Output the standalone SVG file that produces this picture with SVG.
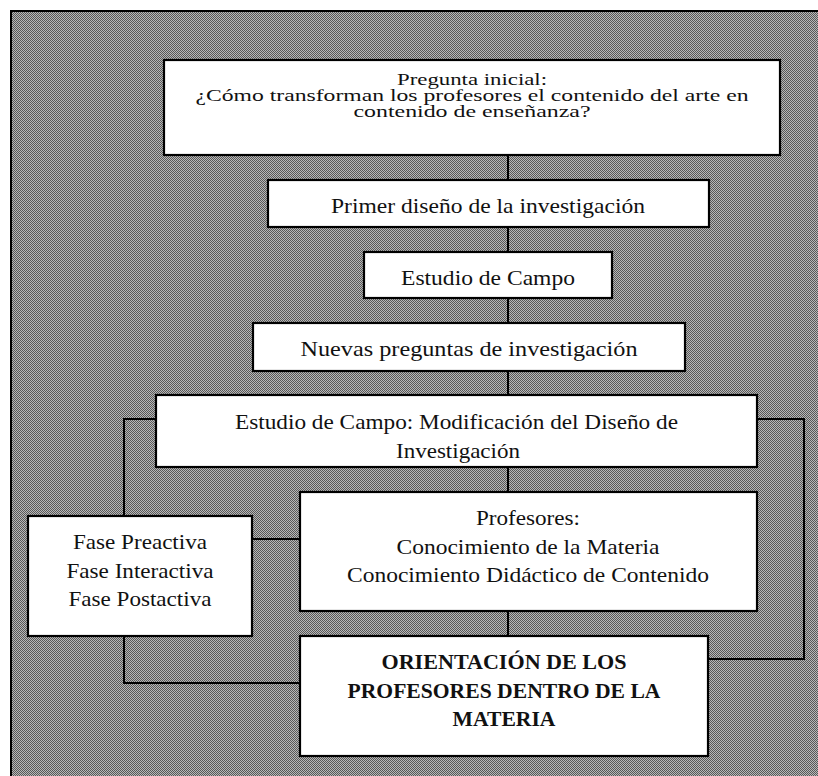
<svg xmlns="http://www.w3.org/2000/svg" width="818" height="776" viewBox="0 0 818 776">
  <defs>
    <!-- dithered gray fill for the frame background -->
    <pattern id="dither" width="2" height="2" patternUnits="userSpaceOnUse">
      <rect x="0" y="0" width="2" height="2" fill="#b8b8b8"/>
      <rect x="0" y="0" width="1" height="1" fill="#585858"/>
      <rect x="1" y="1" width="1" height="1" fill="#585858"/>
    </pattern>
    <clipPath id="clip-modif">
      <rect x="156" y="395" width="601" height="72"/>
    </clipPath>
  </defs>
  <style>
    .box { fill: #ffffff; stroke: #000000; stroke-width: 2.2; }
    .edge { fill: none; stroke: #000000; stroke-width: 2; }
    text { font-family: "Liberation Serif", "Times New Roman", serif; fill: #111111; text-anchor: middle; }
    .t16 { font-size: 16px; }
    .t22 { font-size: 22px; }
    .bold { font-size: 22px; font-weight: bold; }
  </style>

  <rect x="0" y="0" width="818" height="776" fill="#ffffff"/>
  <!-- outer frame -->
  <rect x="11" y="11" width="830" height="800" fill="url(#dither)" stroke="#000000" stroke-width="2"/>

  <g id="connectors">
    <line class="edge" x1="508" y1="155" x2="508" y2="180"/>
    <line class="edge" x1="508" y1="227" x2="508" y2="252"/>
    <line class="edge" x1="508" y1="298" x2="508" y2="323"/>
    <line class="edge" x1="508" y1="371" x2="508" y2="395"/>
    <line class="edge" x1="508" y1="467" x2="508" y2="492"/>
    <line class="edge" x1="508" y1="611" x2="508" y2="636"/>
    <polyline class="edge" points="156,419 124,419 124,516"/>
    <polyline class="edge" points="124,636 124,683 300,683"/>
    <line class="edge" x1="252" y1="539" x2="300" y2="539"/>
    <polyline class="edge" points="757,419 804,419 804,659 708,659"/>
  </g>

  <g id="pregunta-inicial">
    <rect class="box" x="164" y="60" width="616" height="95"/>
    <text class="t16" x="472" y="85" textLength="150" lengthAdjust="spacingAndGlyphs">Pregunta inicial:</text>
    <text class="t16" x="472" y="101" textLength="553" lengthAdjust="spacingAndGlyphs">¿Cómo transforman los profesores el contenido del arte en</text>
    <text class="t16" x="472" y="117" textLength="237" lengthAdjust="spacingAndGlyphs">contenido de enseñanza?</text>
  </g>

  <g id="primer-diseno">
    <rect class="box" x="268" y="180" width="441" height="47"/>
    <text class="t22" x="488" y="213" textLength="314" lengthAdjust="spacingAndGlyphs">Primer diseño de la investigación</text>
  </g>

  <g id="estudio-campo">
    <rect class="box" x="364" y="252" width="248" height="46"/>
    <text class="t22" x="488" y="285" textLength="174" lengthAdjust="spacingAndGlyphs">Estudio de Campo</text>
  </g>

  <g id="nuevas-preguntas">
    <rect class="box" x="253" y="323" width="432" height="48"/>
    <text class="t22" x="469" y="356" textLength="337" lengthAdjust="spacingAndGlyphs">Nuevas preguntas de investigación</text>
  </g>

  <g id="modificacion-diseno">
    <rect x="156" y="395" width="601" height="72" fill="#ffffff"/>
    <g clip-path="url(#clip-modif)">
      <text class="t22" x="456.5" y="429" textLength="443" lengthAdjust="spacingAndGlyphs">Estudio de Campo: Modificación del Diseño de</text>
      <text class="t22" x="458" y="458" textLength="124" lengthAdjust="spacingAndGlyphs">Investigación</text>
    </g>
    <rect x="156" y="395" width="601" height="72" fill="none" stroke="#000000" stroke-width="2.2"/>
  </g>

  <g id="fases">
    <rect class="box" x="28" y="516" width="224" height="120"/>
    <text class="t22" x="140" y="549" textLength="134" lengthAdjust="spacingAndGlyphs">Fase Preactiva</text>
    <text class="t22" x="140" y="578" textLength="147" lengthAdjust="spacingAndGlyphs">Fase Interactiva</text>
    <text class="t22" x="140" y="606" textLength="143" lengthAdjust="spacingAndGlyphs">Fase Postactiva</text>
  </g>

  <g id="profesores">
    <rect class="box" x="300" y="492" width="457" height="119"/>
    <text class="t22" x="528" y="525" textLength="104" lengthAdjust="spacingAndGlyphs">Profesores:</text>
    <text class="t22" x="528" y="554" textLength="263" lengthAdjust="spacingAndGlyphs">Conocimiento de la Materia</text>
    <text class="t22" x="528" y="582" textLength="362" lengthAdjust="spacingAndGlyphs">Conocimiento Didáctico de Contenido</text>
  </g>

  <g id="orientacion">
    <rect class="box" x="300" y="636" width="408" height="120"/>
    <text class="bold" x="504" y="669" textLength="245" lengthAdjust="spacingAndGlyphs">ORIENTACIÓN DE LOS</text>
    <text class="bold" x="504" y="698" textLength="313" lengthAdjust="spacingAndGlyphs">PROFESORES DENTRO DE LA</text>
    <text class="bold" x="504" y="726" textLength="103" lengthAdjust="spacingAndGlyphs">MATERIA</text>
  </g>
</svg>
